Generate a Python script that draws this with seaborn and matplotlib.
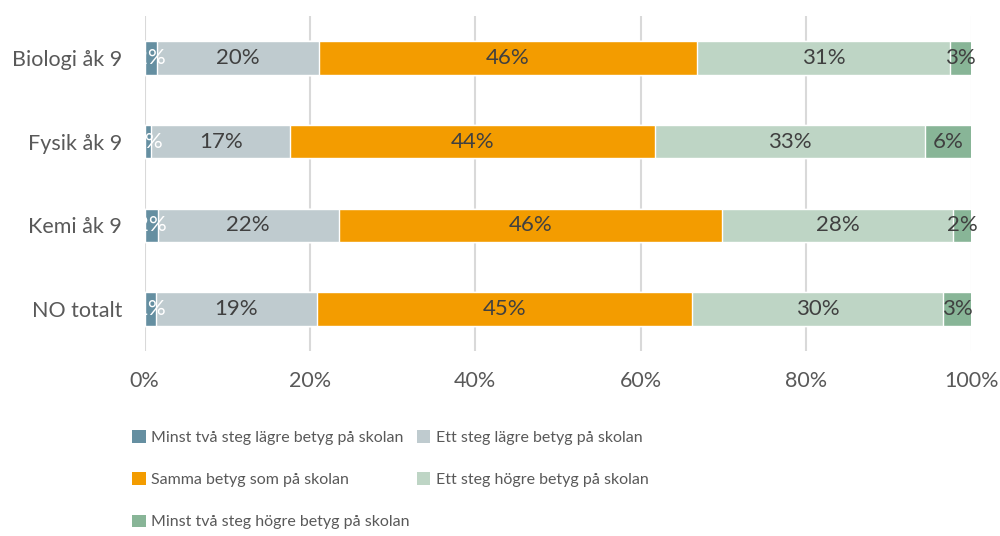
import matplotlib
matplotlib.use("Agg")
import matplotlib.pyplot as plt
import numpy as np
import pandas as pd
import seaborn as sns
from matplotlib.patches import Patch

categories = ["Biologi åk 9", "Fysik åk 9", "Kemi åk 9", "NO totalt"]
series = [
    "Minst två steg lägre betyg på skolan",
    "Ett steg lägre betyg på skolan",
    "Samma betyg som på skolan",
    "Ett steg högre betyg på skolan",
    "Minst två steg högre betyg på skolan",
]
two_lower = [1.5, 0.8, 1.6, 1.4]
one_lower = [19.6, 16.8, 21.9, 19.4]
same = [45.7, 44.1, 46.3, 45.4]
one_higher = [30.6, 32.7, 28.0, 30.4]
two_higher = [2.6, 5.6, 2.2, 3.4]

colors = ["#658FA1", "#BFCBCF", "#F39C00", "#BED5C5", "#88B597"]
label_colors = ["white", "#404040", "#404040", "#404040", "#404040"]

df = pd.DataFrame(
    dict(zip(series, [two_lower, one_lower, same, one_higher, two_higher])),
    index=categories,
)
cum = df.cumsum(axis=1)

sns.set_style("white")
plt.rcParams["font.family"] = ["Lato", "DejaVu Sans"]

fig = plt.figure(figsize=(10, 5.36), dpi=100)
ax = fig.add_axes([0.1445, 0.345, 0.827, 0.625])

# stacked bars: draw cumulative totals from the widest down
for i in range(len(series) - 1, -1, -1):
    sns.barplot(
        x=cum.iloc[:, i].values,
        y=categories,
        orient="h",
        color=colors[i],
        saturation=1,
        width=0.4,
        ax=ax,
        zorder=2,
    )

for j, cat in enumerate(categories):
    for i, s in enumerate(series):
        v = df.loc[cat, s]
        mid = cum.loc[cat, s] - v / 2
        ax.text(mid, j, f"{v:.0f}%", ha="center", va="center",
                fontsize=16, color=label_colors[i], zorder=3)

ax.set_xlim(0, 100)
ax.set_ylim(3.5, -0.5)
ax.set_xticks(np.arange(0, 101, 20))
ax.set_xticklabels([f"{t}%" for t in range(0, 101, 20)])
ax.grid(axis="x", color="#D9D9D9", linewidth=1.5, zorder=0)
ax.set_axisbelow(True)
for sp in ax.spines.values():
    sp.set_visible(False)
ax.tick_params(axis="both", length=0, labelsize=15.5, labelcolor="#595959")
ax.tick_params(axis="x", pad=14)
ax.tick_params(axis="y", pad=16)
ax.set_xlabel("")
ax.set_ylabel("")

order = [0, 2, 4, 1, 3]
handles = [Patch(facecolor=colors[k], edgecolor="none") for k in order]
labels = [series[k] for k in order]
fig.legend(
    handles, labels, ncol=2, loc="upper left", bbox_to_anchor=(0.132, 0.197),
    frameon=False, fontsize=11.5, handlelength=0.85, handleheight=0.85,
    handletextpad=0.35, columnspacing=0.45, labelspacing=1.7,
    labelcolor="#595959", borderaxespad=0, borderpad=0,
)

fig.savefig("out.png", dpi=100)
